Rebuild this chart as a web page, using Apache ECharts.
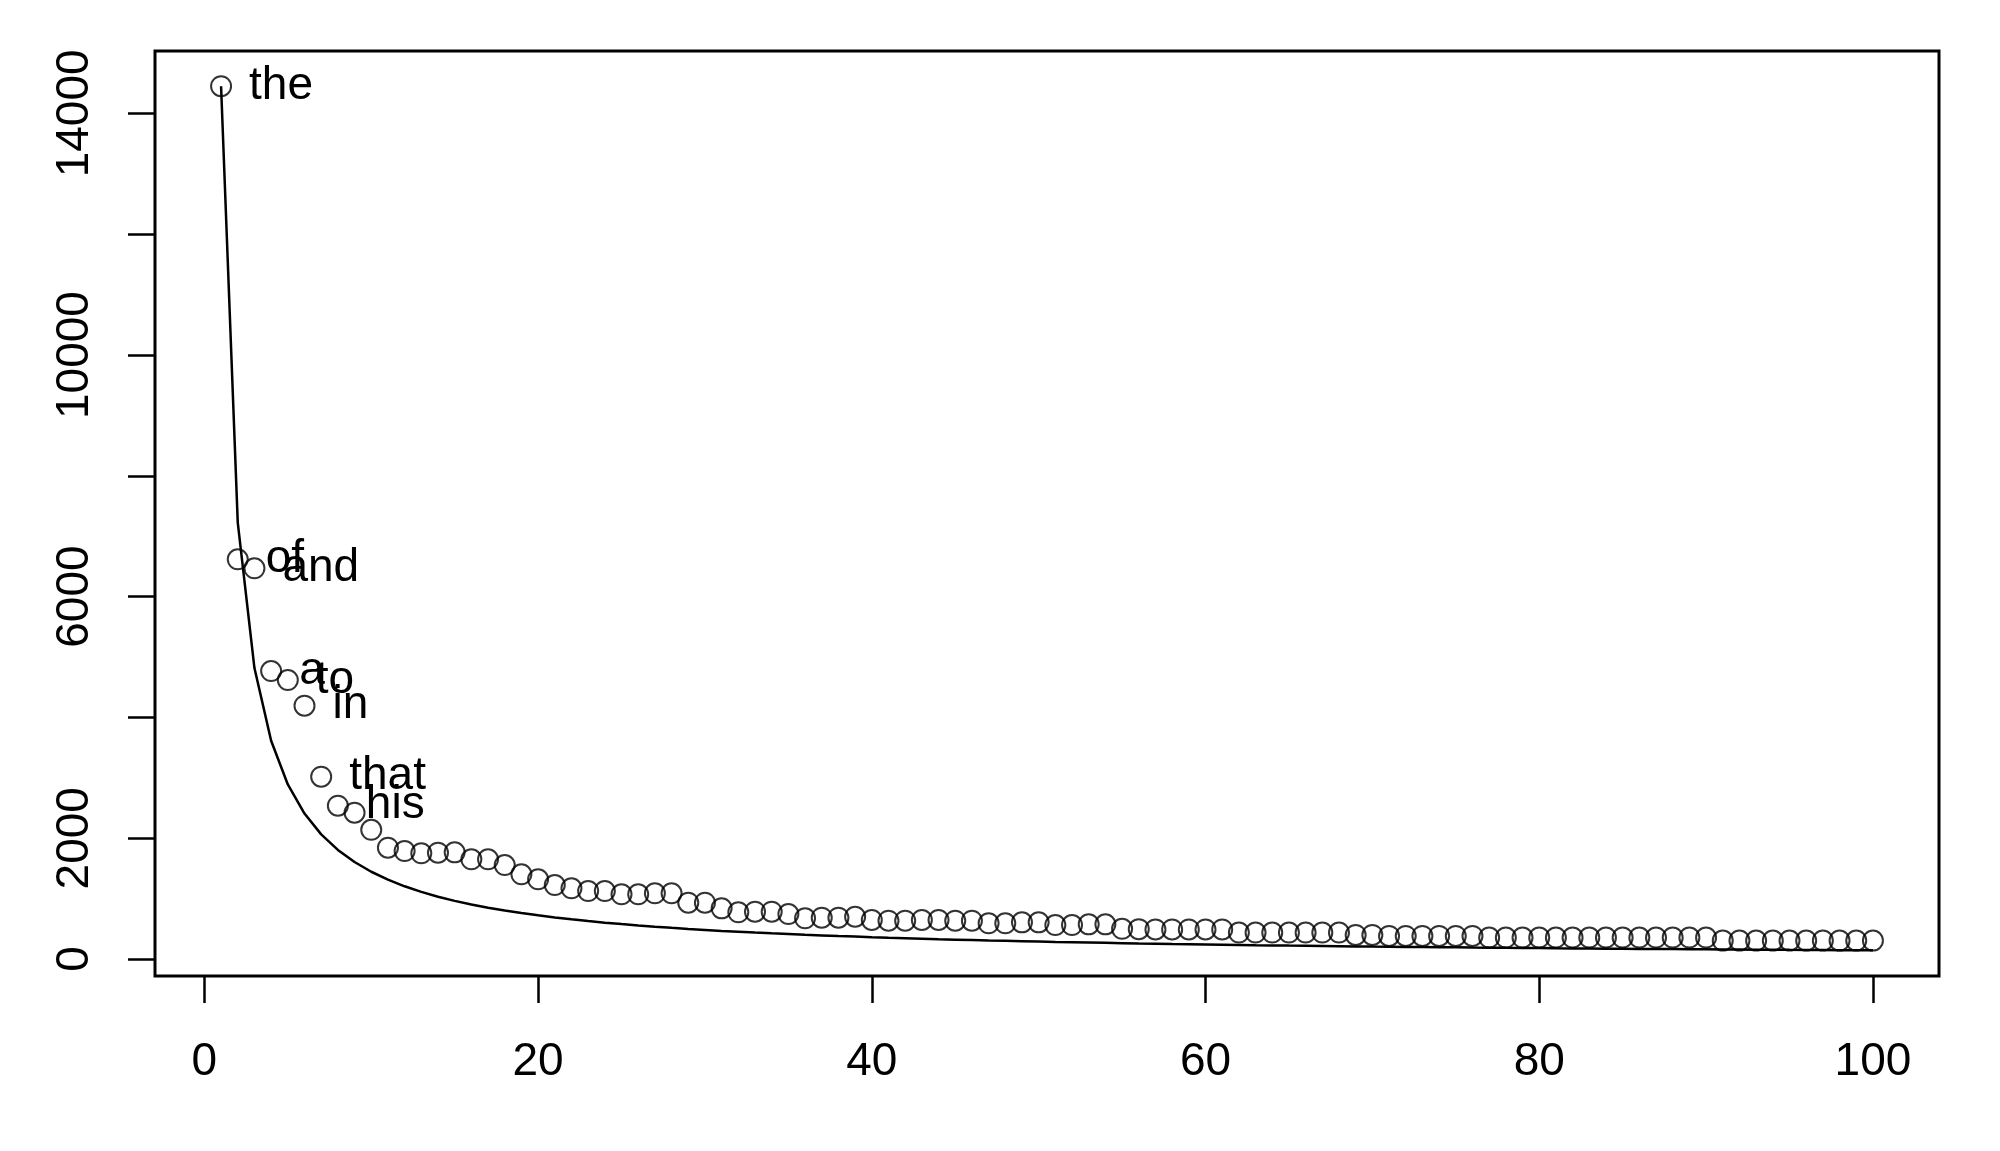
<!DOCTYPE html>
<html>
<head>
<meta charset="utf-8">
<script src="https://cdn.jsdelivr.net/npm/echarts@6/dist/echarts.min.js"></script>
<style>
html,body{margin:0;padding:0;background:#fff;}
#chart{width:2000px;height:1151px;}
</style>
</head>
<body>
<div id="chart"></div>
<script>
// Word ranks (x)
var ranks = [];
for (var r = 1; r <= 100; r++) ranks.push(r);

var freqs = [
  14450, 6617, 6468, 4768, 4619, 4194, 3018, 2538, 2422, 2140,
  1843, 1788, 1750, 1760, 1766, 1651, 1651, 1556, 1402, 1320,
  1225, 1171, 1126, 1126, 1071, 1071, 1088, 1088, 932, 932,
  839, 773, 783, 783, 745, 674, 684, 684, 700, 646,
  634, 634, 646, 646, 634, 634, 591, 591, 607, 607,
  563, 563, 574, 574, 500, 495, 490, 490, 490, 490,
  490, 438, 438, 438, 438, 438, 438, 438, 398, 398,
  382, 382, 382, 382, 382, 382, 355, 355, 355, 355,
  355, 355, 355, 355, 355, 355, 355, 355, 355, 355,
  305, 305, 305, 305, 305, 305, 305, 305, 305, 305
];

// Expected curve (line)
var expected = [
  14450, 7225, 4817, 3613, 2890, 2408, 2064, 1806, 1606, 1445,
  1314, 1204, 1112, 1032, 963, 903, 850, 803, 761, 723,
  688, 657, 628, 602, 578, 556, 535, 516, 498, 482,
  466, 452, 438, 425, 413, 401, 391, 380, 371, 361,
  352, 344, 336, 328, 321, 314, 307, 301, 295, 289,
  283, 278, 273, 268, 263, 258, 254, 249, 245, 241,
  237, 233, 229, 226, 222, 219, 216, 213, 209, 206,
  204, 201, 198, 195, 193, 190, 188, 185, 183, 181,
  178, 176, 174, 172, 170, 168, 166, 164, 162, 161,
  159, 157, 155, 154, 152, 151, 149, 147, 146, 145
];

// Labels for the top words
var words = ['the', 'of', 'and', 'a', 'to', 'in', 'that', 'his'];

// Tick values
var xTicks = [0, 20, 40, 60, 80, 100];
var yTicks = [0, 2000, 4000, 6000, 8000, 10000, 12000, 14000];
var yLabels = [0, 2000, 6000, 10000, 14000];

var FONT = "'Liberation Sans', Arial, sans-serif";

var pointData = ranks.map(function (x, i) { return [x, freqs[i]]; });
var lineData = ranks.map(function (x, i) { return [x, expected[i]]; });

var chart = echarts.init(document.getElementById('chart'), null, {renderer: 'canvas'});
chart.setOption({
  animation: false,
  backgroundColor: '#ffffff',
  grid: {
    left: 155, top: 51, width: 1784, height: 925,
    show: true, borderColor: '#000', borderWidth: 3, backgroundColor: 'transparent',
    containLabel: false
  },
  xAxis: {
    type: 'value',
    min: -2.96, max: 103.96,
    axisLine: {show: false, onZero: false},
    splitLine: {show: false},
    axisTick: {show: true, inside: false, length: 27, lineStyle: {color: '#000', width: 2.5}, customValues: xTicks},
    axisLabel: {
      show: true, customValues: xTicks, margin: 63,
      color: '#000', fontSize: 46, fontFamily: FONT,
      formatter: function (v) { return String(v); }
    }
  },
  yAxis: {
    type: 'value',
    min: -281, max: 15033,
    axisLine: {show: false, onZero: false},
    splitLine: {show: false},
    axisTick: {show: true, inside: false, length: 27, lineStyle: {color: '#000', width: 2.5}, customValues: yTicks},
    axisLabel: {
      show: true, customValues: yLabels, rotate: 90, margin: 57,
      color: '#000', fontSize: 46, fontFamily: FONT,
      formatter: function (v) { return String(v); }
    }
  },
  series: [
    {
      type: 'scatter',
      data: pointData,
      symbol: 'circle',
      symbolSize: 20,
      clip: false,
      itemStyle: {color: 'rgba(0,0,0,0)', borderColor: '#000', borderWidth: 2},
      label: {
        show: true,
        position: 'right',
        distance: 17,
        color: '#000000',
        opacity: 1,
        textBorderWidth: 0,
        textBorderColor: 'transparent',
        textShadowBlur: 0,
        fontSize: 46,
        fontFamily: FONT,
        formatter: function (p) { return p.dataIndex < words.length ? words[p.dataIndex] : ''; }
      },
      labelLayout: {hideOverlap: false},
      emphasis: {disabled: true}
    },
    {
      type: 'line',
      data: lineData,
      showSymbol: false,
      clip: false,
      lineStyle: {color: '#000', width: 2.5},
      emphasis: {disabled: true}
    }
  ]
});
</script>
</body>
</html>
